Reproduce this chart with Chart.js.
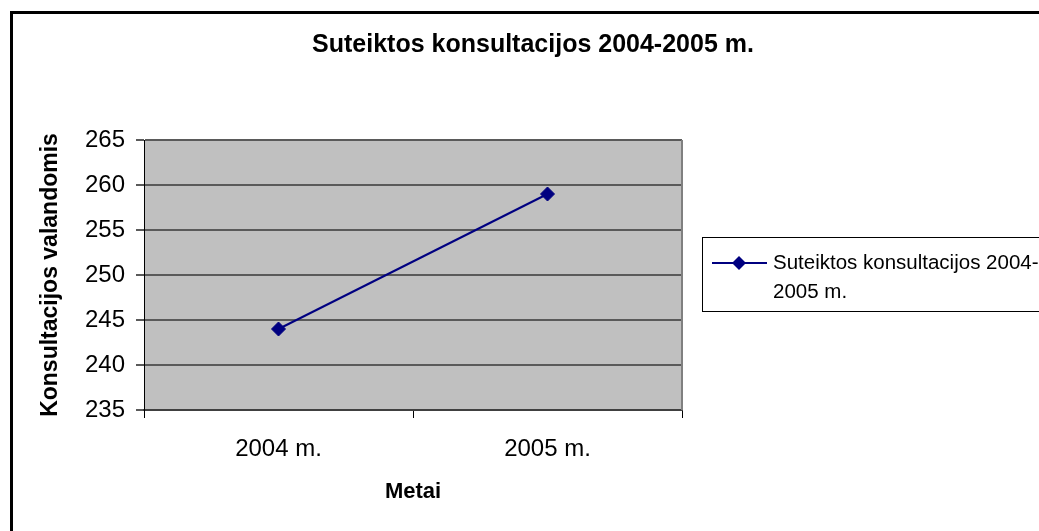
<!DOCTYPE html>
<html>
<head>
<meta charset="utf-8">
<script src="https://cdn.jsdelivr.net/npm/chart.js@4/dist/chart.umd.min.js"></script>
<style>
  body { margin: 0; background: #fff; }
  #wrap { width: 1039px; height: 531px; }
</style>
</head>
<body>
<div id="wrap"><canvas id="chart" width="1039" height="531"></canvas></div>
<script>
// data
const years = ["2004 m.", "2005 m."];
const hours = [244, 259];
const seriesLabel = "Suteiktos konsultacijos 2004-2005 m.";
const chartTitle = "Suteiktos konsultacijos 2004-2005 m.";
const yTitle = "Konsultacijos valandomis";
const xTitle = "Metai";

const FONT = "'Liberation Sans', Arial, sans-serif";
const NAVY = "#000080";

// grey plot area, frame, title and the boxed legend
const decor = {
    id: "decor",
    beforeDraw(chart) {
        const { ctx, chartArea: a } = chart;
        ctx.save();
        ctx.fillStyle = "#c0c0c0";
        ctx.fillRect(a.left, a.top, a.right - a.left, a.bottom - a.top);
        ctx.restore();
    },
    afterDraw(chart) {
        const { ctx, chartArea: a } = chart;
        ctx.save();

        // right edge of plot
        ctx.strokeStyle = "#808080";
        ctx.lineWidth = 2;
        ctx.beginPath();
        ctx.moveTo(a.right, a.top);
        ctx.lineTo(a.right, a.bottom);
        ctx.stroke();

        // outer frame (only left and top are visible)
        ctx.strokeStyle = "#000";
        ctx.lineWidth = 3;
        ctx.beginPath();
        ctx.moveTo(11.5, chart.height);
        ctx.lineTo(11.5, 12.5);
        ctx.lineTo(chart.width, 12.5);
        ctx.stroke();

        // title
        ctx.fillStyle = "#000";
        ctx.font = "bold 25px " + FONT;
        ctx.textAlign = "center";
        ctx.textBaseline = "middle";
        ctx.fillText(chartTitle, 533, 45);

        // legend box
        ctx.lineWidth = 1;
        ctx.strokeStyle = "#000";
        ctx.strokeRect(702.5, 237.5, 400, 74);

        const ds = chart.data.datasets[0];
        ctx.strokeStyle = ds.borderColor;
        ctx.lineWidth = 2;
        ctx.beginPath();
        ctx.moveTo(712, 263);
        ctx.lineTo(767, 263);
        ctx.stroke();
        ctx.fillStyle = ds.backgroundColor;
        ctx.beginPath();
        ctx.moveTo(739, 256);
        ctx.lineTo(746, 263);
        ctx.lineTo(739, 270);
        ctx.lineTo(732, 263);
        ctx.closePath();
        ctx.fill();

        ctx.fillStyle = "#000";
        ctx.font = "20.5px " + FONT;
        ctx.textAlign = "left";
        const lines = ds.label.split(/(?<=-)/);
        lines.forEach((t, i) => ctx.fillText(t, 773, 263 + i * 29));

        ctx.restore();
    }
};

new Chart(document.getElementById("chart").getContext("2d"), {
    type: "line",
    data: {
        labels: years,
        datasets: [
            {
                label: seriesLabel,
                data: hours,
                borderColor: NAVY,
                backgroundColor: NAVY,
                borderWidth: 2,
                pointStyle: "rectRot",
                pointRadius: 7,
                pointBorderWidth: 1,
                tension: 0
            }
        ]
    },
    options: {
        responsive: false,
        animation: false,
        layout: { padding: { top: 140, right: 357, left: 0, bottom: 0 } },
        plugins: {
            legend: { display: false },
            title: { display: false },
            tooltip: { enabled: false }
        },
        scales: {
            x: {
                offset: true,
                afterFit: s => { s.height = 121; },
                border: { color: "#404040", width: 2 },
                grid: {
                    offset: true,
                    drawOnChartArea: false,
                    drawTicks: true,
                    tickLength: 8,
                    color: "#000"
                },
                ticks: {
                    color: "#000",
                    font: { family: FONT, size: 24 },
                    padding: 17
                },
                title: {
                    display: true,
                    text: xTitle,
                    color: "#000",
                    font: { family: FONT, size: 22, weight: "bold" },
                    padding: { top: 0, bottom: 26 }
                }
            },
            y: {
                min: 235,
                max: 265,
                afterFit: s => { s.width = 144; },
                border: { color: "#000", width: 1 },
                grid: {
                    color: "#5a5a5a",
                    lineWidth: 2,
                    tickLength: 8
                },
                ticks: {
                    stepSize: 5,
                    color: "#000",
                    font: { family: FONT, size: 24 },
                    padding: 11
                },
                title: {
                    display: true,
                    text: yTitle,
                    color: "#000",
                    font: { family: FONT, size: 23, weight: "bold" },
                    padding: { top: 37, bottom: 0 }
                }
            }
        }
    },
    plugins: [decor]
});
</script>
</body>
</html>
